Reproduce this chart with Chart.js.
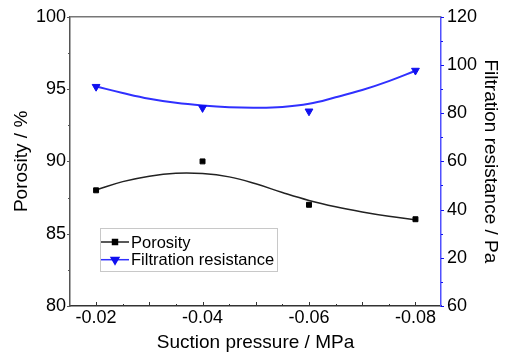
<!DOCTYPE html>
<html>
<head>
<meta charset="utf-8">
<script src="https://cdn.jsdelivr.net/npm/chart.js@4.4.0/dist/chart.umd.min.js"></script>
<style>
  html, body { margin: 0; padding: 0; background: #fff; }
  #wrap { width: 507px; height: 359px; }
</style>
</head>
<body>
<div id="wrap"><canvas id="chart"></canvas></div>
<script>
// measured points
var suction = [-0.02, -0.04, -0.06, -0.08];
var porosity = [88.0, 90.0, 87.0, 86.0];
var resistance = [91.0, 82.2, 80.8, 97.7];

// fitted curves
var fitSuction = [-0.02, -0.025, -0.03, -0.035, -0.04, -0.045, -0.05, -0.055, -0.06, -0.065, -0.07, -0.075, -0.08];
var porosityFit = [88.02, 88.6, 88.98, 89.18, 89.16, 88.93, 88.45, 87.85, 87.3, 86.86, 86.5, 86.2, 85.96];
var resistanceFit = [91.1, 88.4, 86.0, 84.3, 83.2, 82.5, 82.3, 82.6, 83.9, 86.6, 89.6, 93.3, 97.6];

// axes
var xTicks = [-0.02, -0.04, -0.06, -0.08];
var xMajorMarks = [-0.02, -0.03, -0.04, -0.05, -0.06, -0.07, -0.08];
var xMinorMarks = [-0.025, -0.035, -0.045, -0.055, -0.065, -0.075];
var yTicks = [80, 85, 90, 95, 100];
var yMinorMarks = [82.5, 87.5, 92.5, 97.5];
var y1Ticks = [0, 20, 40, 60, 80, 100, 120];
var y1TickLabels = ['60', '20', '40', '60', '80', '100', '120'];
var y1MinorMarks = [10, 30, 50, 70, 90, 110];

var FONT = '"Liberation Sans", Arial, sans-serif';
var BLUE = '#1010f0';

function toPoints(xs, ys) {
  var pts = [];
  for (var i = 0; i < xs.length; i++)
    pts.push({x: xs[i], y: ys[i]});
  return pts;
}

function setTicks(values) {
  return function(scale) {
    scale.ticks = values.map(function(v) { return {value: v}; });
  };
}

function marks(ctx, values, scale, base, len, horizontal) {
  ctx.beginPath();
  values.forEach(function(v) {
    var p = Math.round(scale.getPixelForValue(v)) + 0.5;
    if (horizontal) {
      ctx.moveTo(p, base);
      ctx.lineTo(p, base + len);
    } else {
      ctx.moveTo(base, p);
      ctx.lineTo(base + len, p);
    }
  });
  ctx.stroke();
}

var framePlugin = {
  id: 'frame',
  afterDatasetsDraw: function(chart) {
    var ctx = chart.ctx, a = chart.chartArea, s = chart.scales;
    ctx.save();
    ctx.lineWidth = 1.5;
    ctx.strokeStyle = '#777';
    ctx.beginPath();
    ctx.moveTo(a.left, a.top);
    ctx.lineTo(a.right, a.top);
    ctx.stroke();

    ctx.lineWidth = 1;
    ctx.strokeStyle = '#333';
    marks(ctx, xMajorMarks, s.x, a.bottom, -4, true);
    marks(ctx, xMinorMarks, s.x, a.bottom, -2, true);
    ctx.strokeStyle = '#555';
    marks(ctx, yTicks, s.y, a.left, -3, false);
    marks(ctx, yMinorMarks, s.y, a.left, -2, false);
    ctx.strokeStyle = BLUE;
    marks(ctx, y1Ticks, s.y1, a.right, 3, false);
    marks(ctx, y1MinorMarks, s.y1, a.right, 2, false);
    ctx.restore();
  }
};

var boxLegendPlugin = {
  id: 'boxLegend',
  afterDraw: function(chart, args, opts) {
    var ctx = chart.ctx;
    var items = chart.data.datasets.filter(function(d) { return d.inLegend; });
    ctx.save();
    ctx.fillStyle = '#fff';
    ctx.fillRect(opts.left, opts.top, opts.width, opts.height);
    ctx.strokeStyle = '#c8c8c8';
    ctx.lineWidth = 1;
    ctx.strokeRect(opts.left + 0.5, opts.top + 0.5, opts.width, opts.height);
    ctx.font = opts.fontSize + 'px ' + FONT;
    ctx.textBaseline = 'middle';
    items.forEach(function(d, i) {
      var y = opts.top + opts.firstRow + i * opts.rowHeight;
      var x0 = opts.left + 1;
      ctx.strokeStyle = d.legendLine;
      ctx.lineWidth = 1.5;
      ctx.beginPath();
      ctx.moveTo(x0, y);
      ctx.lineTo(x0 + opts.sample, y);
      ctx.stroke();
      ctx.fillStyle = d.backgroundColor;
      ctx.strokeStyle = d.borderColor;
      Chart.helpers.drawPoint(ctx, {
        pointStyle: d.pointStyle,
        radius: d.pointRadius,
        rotation: d.pointRotation || 0,
        borderWidth: 1
      }, x0 + opts.sample / 2, y);
      ctx.fillStyle = '#000';
      ctx.fillText(d.label, x0 + opts.sample + 2, y + 1);
    });
    ctx.restore();
  }
};

var ctx = document.getElementById('chart');
new Chart(ctx, {
  type: 'scatter',
  data: {
    datasets: [
      {
        label: 'Porosity',
        data: toPoints(suction, porosity),
        yAxisID: 'y',
        pointStyle: 'rect',
        pointRadius: 3.5,
        backgroundColor: '#000',
        borderColor: '#000',
        borderWidth: 1,
        inLegend: true,
        legendLine: '#222'
      },
      {
        label: 'Filtration resistance',
        data: toPoints(suction, resistance),
        yAxisID: 'y1',
        pointStyle: 'triangle',
        pointRotation: 180,
        pointRadius: 4.5,
        backgroundColor: BLUE,
        borderColor: BLUE,
        borderWidth: 1,
        inLegend: true,
        legendLine: '#3030ff'
      },
      {
        label: 'Porosity fit',
        data: toPoints(fitSuction, porosityFit),
        yAxisID: 'y',
        showLine: true,
        pointRadius: 0,
        borderColor: '#222',
        borderWidth: 1.5,
        tension: 0.4
      },
      {
        label: 'Filtration resistance fit',
        data: toPoints(fitSuction, resistanceFit),
        yAxisID: 'y1',
        showLine: true,
        pointRadius: 0,
        borderColor: '#3030ff',
        borderWidth: 2,
        tension: 0.4
      }
    ]
  },
  options: {
    responsive: true,
    maintainAspectRatio: false,
    animation: false,
    layout: { padding: { top: 15, left: 0, right: 0, bottom: 0 } },
    plugins: {
      legend: { display: false },
      tooltip: { enabled: false },
      boxLegend: {
        left: 100, top: 228, width: 177, height: 43,
        firstRow: 14, rowHeight: 17.7, sample: 28, fontSize: 16.5
      }
    },
    scales: {
      x: {
        type: 'linear',
        reverse: true,
        min: -0.0848,
        max: -0.0151,
        afterBuildTicks: setTicks(xTicks),
        afterFit: function(s) { s.height = 53; },
        grid: { display: false, drawTicks: false },
        border: { display: true, color: '#333', width: 1.5 },
        ticks: {
          color: '#000', padding: 1, maxRotation: 0, autoSkip: false,
          font: { family: FONT, size: 18 },
          callback: function(v) { return v.toFixed(2); }
        },
        title: {
          display: true, text: 'Suction pressure / MPa', color: '#000',
          font: { family: FONT, size: 19 }, padding: { top: 0, bottom: 5 }
        }
      },
      y: {
        type: 'linear',
        position: 'left',
        min: 80,
        max: 100,
        afterBuildTicks: setTicks(yTicks),
        afterFit: function(s) { s.width = 70; },
        grid: { display: false, drawTicks: false },
        border: { display: true, color: '#555', width: 1.5 },
        ticks: { color: '#000', padding: 4, font: { family: FONT, size: 18 } },
        title: {
          display: true, text: 'Porosity / %', color: '#000',
          font: { family: FONT, size: 19 }, padding: { top: 10, bottom: 0 }
        }
      },
      y1: {
        type: 'linear',
        position: 'right',
        min: 0,
        max: 120,
        afterBuildTicks: setTicks(y1Ticks),
        afterFit: function(s) { s.width = 66; },
        grid: { display: false, drawTicks: false },
        border: { display: true, color: '#5050ff', width: 1.5 },
        ticks: {
          color: '#000', padding: 6, font: { family: FONT, size: 18 },
          callback: function(v, i) { return y1TickLabels[i]; }
        },
        title: {
          display: true, text: 'Filtration resistance / Pa', color: '#000',
          font: { family: FONT, size: 19 }, padding: { top: 5, bottom: 0 }
        }
      }
    }
  },
  plugins: [framePlugin, boxLegendPlugin]
});
</script>
</body>
</html>
